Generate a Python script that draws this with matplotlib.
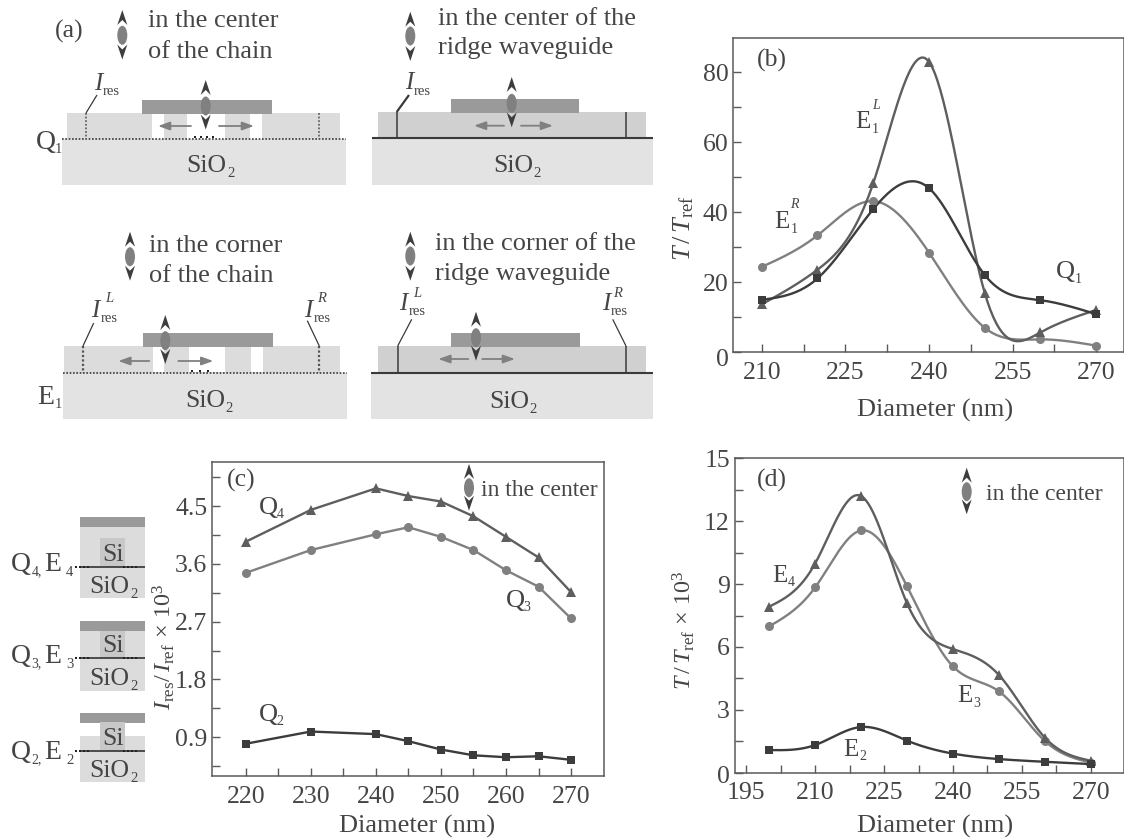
import numpy as np
import matplotlib
matplotlib.use("Agg")
import matplotlib.pyplot as plt
from matplotlib.patches import Rectangle, Ellipse, Polygon
from matplotlib.ticker import FixedLocator
from matplotlib.transforms import ScaledTranslation

plt.rcParams['font.family'] = ['Liberation Serif', 'DejaVu Serif']
plt.rcParams['mathtext.fontset'] = 'custom'
plt.rcParams['mathtext.rm'] = 'Liberation Serif'
plt.rcParams['mathtext.it'] = 'Liberation Serif:italic'
plt.rcParams['mathtext.default'] = 'rm'

# ---------- data ----------
b_x = [210, 220, 230, 240, 250, 260, 270]
b_E1L = [13.7, 23.6, 48.3, 83.0, 17.0, 5.7, 12.1]
b_Q1 = [15.0, 21.1, 40.9, 46.9, 22.1, 14.9, 10.9]
b_E1R = [24.4, 33.4, 43.2, 28.5, 7.0, 3.7, 1.9]

c_x = [220, 230, 240, 245, 250, 255, 260, 265, 270]
c_Q4 = [3.945, 4.44, 4.775, 4.655, 4.57, 4.34, 4.02, 3.70, 3.16]
c_Q3 = [3.46, 3.815, 4.06, 4.17, 4.02, 3.815, 3.50, 3.245, 2.75]
c_Q2 = [0.80, 0.99, 0.95, 0.84, 0.71, 0.62, 0.59, 0.605, 0.55]

d_x = [200, 210, 220, 230, 240, 250, 260, 270]
d_E4 = [7.92, 9.98, 13.2, 8.08, 5.9, 4.66, 1.67, 0.57]
d_E3 = [6.98, 8.84, 11.56, 8.89, 5.07, 3.88, 1.51, 0.48]
d_E2 = [1.08, 1.32, 2.18, 1.53, 0.91, 0.65, 0.52, 0.41]

# ---------- style ----------
W, H = 1124, 838
TXT = '#454545'
C_TRI, C_CIR, C_SQ = '#5e5e5e', '#808080', '#3c3c3c'
SPINE = '#5a5a5a'


def spline(x, y, n=40):
    """Natural cubic spline drawn through the read points (smooth connected line)."""
    x, y = np.asarray(x, float), np.asarray(y, float)
    h = np.diff(x)
    m = len(x)
    A = np.zeros((m, m))
    r = np.zeros(m)
    A[0, 0] = A[-1, -1] = 1
    for i in range(1, m - 1):
        A[i, i - 1:i + 2] = h[i - 1], 2 * (h[i - 1] + h[i]), h[i]
        r[i] = 6 * ((y[i + 1] - y[i]) / h[i] - (y[i] - y[i - 1]) / h[i - 1])
    s = np.linalg.solve(A, r)
    xs, ys = [], []
    for i in range(m - 1):
        t = np.linspace(x[i], x[i + 1], n)
        a, b = x[i + 1] - t, t - x[i]
        ys.append(s[i] * a**3 / (6 * h[i]) + s[i + 1] * b**3 / (6 * h[i])
                  + (y[i] / h[i] - s[i] * h[i] / 6) * a
                  + (y[i + 1] / h[i] - s[i + 1] * h[i] / 6) * b)
        xs.append(t)
    return np.concatenate(xs), np.concatenate(ys)


fig = plt.figure(figsize=(W / 100, H / 100), dpi=100)
fig.patch.set_facecolor('white')


def make_axes(l, t, r, b, xlim, ylim, xmaj, xmin, ymaj, ymin, xpad=7):
    ax = fig.add_axes([l / W, 1 - b / H, (r - l) / W, (b - t) / H])
    ax.set_xlim(*xlim)
    ax.set_ylim(*ylim)
    ax.xaxis.set_major_locator(FixedLocator(xmaj))
    ax.xaxis.set_minor_locator(FixedLocator(xmin))
    ax.yaxis.set_major_locator(FixedLocator(ymaj))
    ax.yaxis.set_minor_locator(FixedLocator(ymin))
    ax.tick_params(which='both', direction='in', length=6, width=1.0, color=SPINE,
                   labelcolor=TXT, labelsize=18.5)
    ax.tick_params(axis='x', which='major', pad=xpad)
    ax.tick_params(axis='y', which='major', pad=3.5)
    ax.set_xticklabels([str(v) for v in xmaj])
    for s in ax.spines.values():
        s.set_color(SPINE)
        s.set_linewidth(1.1)
    ax.patch.set_alpha(0)
    return ax


def series(ax, x, y, color, marker, ms, smooth=True):
    lx, ly = spline(x, y) if smooth else (x, y)
    ax.plot(lx, ly, color=color, lw=1.7, zorder=3)
    ax.plot(x, y, ls='none', marker=marker, color=color, ms=ms, mew=0, zorder=4, clip_on=False)


def drop_zero_label(ax, px):
    lab = ax.get_yticklabels()[0]
    lab.set_transform(lab.get_transform() + ScaledTranslation(0, -px / 100, fig.dpi_scale_trans))


TRI, CIR, SQ = ('^', 7.5), ('o', 6.5), ('s', 6)

# panel b
axb = make_axes(733.3, 38, 1123.5, 352.3, (204.9, 274.9), (0, 89.8),
                [210, 225, 240, 255, 270], [217.5, 232.5, 247.5, 262.5],
                [0, 20, 40, 60, 80], [10, 30, 50, 70])
series(axb, b_x, b_E1R, C_CIR, *CIR)
series(axb, b_x, b_E1L, C_TRI, *TRI)
series(axb, b_x, b_Q1, C_SQ, *SQ)
axb.set_xlabel('Diameter (nm)', fontsize=19, color=TXT)
axb.xaxis.set_label_coords((935 - 733.3) / 390.2, -(416.5 - 352.3) / 314.3)
axb.xaxis.label.set_va('baseline')
axb.set_ylabel(r'$\mathit{T}\,/\,\mathit{T}_{\mathrm{ref}}$', fontsize=19, color=TXT)
axb.yaxis.set_label_coords((690 - 733.3) / 390.2, (352.3 - 228.5) / 314.3)
axb.yaxis.label.set_va('baseline')
drop_zero_label(axb, 5)

# panel c
axc = make_axes(212, 461.7, 604, 776, (214.8, 275.07), (0.298, 5.19),
                [220, 230, 240, 250, 260, 270], [225, 235, 245, 255, 265],
                [0.9, 1.8, 2.7, 3.6, 4.5], [0.45, 1.35, 2.25, 3.15, 4.05, 4.95])
axc.set_yticklabels(['0.9', '1.8', '2.7', '3.6', '4.5'])
series(axc, c_x, c_Q3, C_CIR, *CIR, smooth=False)
series(axc, c_x, c_Q4, C_TRI, *TRI, smooth=False)
series(axc, c_x, c_Q2, C_SQ, *SQ, smooth=False)
axc.set_xlabel('Diameter (nm)', fontsize=19, color=TXT)
axc.xaxis.set_label_coords((417 - 212) / 392, -(832.5 - 776) / 314.3)
axc.xaxis.label.set_va('baseline')
axc.set_ylabel(r'$\mathit{I}_{\mathrm{res}}/\,\mathit{I}_{\mathrm{ref}}\,\times\,10^{3}$', fontsize=17.5, color=TXT)
axc.yaxis.set_label_coords((171 - 212) / 392, (776 - 647) / 314.3)
axc.yaxis.label.set_va('baseline')

# panel d
axd = make_axes(734.7, 458.3, 1123.5, 772.7, (192.5, 277.1), (0, 15),
                [195, 210, 225, 240, 255, 270], [202.5, 217.5, 232.5, 247.5, 262.5],
                [0, 3, 6, 9, 12, 15], [1.5, 4.5, 7.5, 10.5, 13.5])
series(axd, d_x, d_E3, C_CIR, *CIR)
series(axd, d_x, d_E4, C_TRI, *TRI)
series(axd, d_x, d_E2, C_SQ, *SQ)
axd.set_xlabel('Diameter (nm)', fontsize=19, color=TXT)
axd.xaxis.set_label_coords((935 - 734.7) / 388.8, -(832.5 - 772.7) / 314.4)
axd.xaxis.label.set_va('baseline')
axd.set_ylabel(r'$\mathit{T}\,/\,\mathit{T}_{\mathrm{ref}}\,\times\,10^{3}$', fontsize=17.5, color=TXT)
axd.yaxis.set_label_coords((691 - 734.7) / 388.8, (772.7 - 630) / 314.4)
axd.yaxis.label.set_va('baseline')
drop_zero_label(axd, 2)

# overlay in reference pixel coordinates for the schematics and annotations
ov = fig.add_axes([0, 0, 1, 1], zorder=10)
ov.set_xlim(0, W)
ov.set_ylim(H, 0)
ov.axis('off')
ov.patch.set_alpha(0)


def T(x, y, s, size=18.5, **kw):
    kw.setdefault('color', TXT)
    ov.text(x, y, s, fontsize=size, ha='left', va='baseline', **kw)


def rect(x0, y0, x1, y1, c, z=1):
    ov.add_patch(Rectangle((x0, y0), x1 - x0, y1 - y0, fc=c, ec='none', zorder=z))


def dipole(x, y, up, dn, w=10, h=19, halo=True):
    c = '#3d3d3d'
    hw = 5.0
    hl = 15
    ov.add_patch(Polygon([(x, up), (x + hw, up + hl), (x, up + hl - 5), (x - hw, up + hl)],
                         fc=c, ec='none', zorder=5))
    ov.add_patch(Polygon([(x, dn), (x + hw, dn - hl), (x, dn - hl + 5), (x - hw, dn - hl)],
                         fc=c, ec='none', zorder=5))
    if halo:
        ov.add_patch(Ellipse((x, y), w + 2.5, h + 2.5, fc='white', ec='none', zorder=6))
    ov.add_patch(Ellipse((x, y), w, h, fc='#808080', ec='none', zorder=7))


def harrow(x0, x1, y):
    ov.annotate('', xy=(x1, y), xytext=(x0, y),
                arrowprops=dict(arrowstyle='-|>,head_length=0.7,head_width=0.25',
                                color='#808080', lw=1.3, shrinkA=0, shrinkB=0), zorder=5)


def sio2(x, y, sub_x):
    T(x, y, 'SiO', zorder=8)
    T(sub_x, y + 5, '2', size=10.5, zorder=8)


def ires(x, y, rx, ry, sup=None, sx=None, sy=None):
    T(x, y, 'I', size=18, style='italic')
    T(rx, ry, 'res', size=10.5)
    if sup:
        T(sx, sy, sup, size=10.5, style='italic')


def line(xs, ys, c='#3a3a3a', lw=1.0, ls='-', z=4):
    ov.plot(xs, ys, color=c, lw=lw, ls=ls, zorder=z, solid_capstyle='butt')


def qdots(xs, y):
    ov.plot(xs, [y] * len(xs), ls='none', marker='s', ms=1.7, mew=0, color='#222222', zorder=6)


LAYER_A = '#dcdcdc'
SUB = '#e3e3e3'
LAYER_B = '#d0d0d0'
BAR = '#9a9a9a'

# a1: center of chain
rect(62, 139.3, 346, 185, SUB)
rect(67, 113, 340, 139.3, LAYER_A)
for g in [(152, 164), (187, 225), (250, 262)]:
    rect(g[0], 113.5, g[1], 139, 'white', 2)
rect(142, 100, 272, 113.7, BAR, 3)
line([62, 346], [139.3, 139.3], lw=1.2, ls=(0, (1, 1)))
for xx in (86, 319.3):
    line([xx, xx], [113, 139], lw=1.3, ls=(0, (1, 1)), c='#666666')
line([86, 97], [113, 95], lw=0.9)
ires(94, 90, 103, 95)
qdots([195, 201, 207, 213], 137.5)
dipole(205.7, 106, 80, 129.5, halo=False)
harrow(191, 158, 126)
harrow(219, 254, 126)
sio2(186.7, 171.7, 227)
dipole(122.3, 35.3, 10, 59.5)
T(147.7, 27, 'in the center', size=19)
T(147.7, 58, 'of the chain', size=19)
T(55, 38, '(a)', size=18.5)
T(36, 149, 'Q', size=20)
T(55, 152.7, '1', size=10.5)

# a2: corner of chain
rect(62.7, 372.7, 346.7, 419, SUB)
rect(64, 346, 340, 372.7, LAYER_A)
for g in [(153, 164), (189, 225), (251, 263)]:
    rect(g[0], 346.5, g[1], 372, 'white', 2)
rect(143, 333, 273, 346.7, BAR, 3)
line([62.7, 346.7], [372.7, 372.7], lw=1.2, ls=(0, (1, 1)))
for xx in (83, 319.3):
    line([xx, xx], [346, 372.7], lw=1.6, ls=(0, (1, 1)), c='#555555')
line([83, 93.7], [346, 323], lw=0.9)
line([319.3, 307.3], [346, 320.7], lw=0.9)
ires(90.7, 316.7, 101, 321.7, 'L', 105, 301.7)
ires(304, 316.7, 314, 321.7, 'R', 317, 301.7)
qdots([192, 200, 208], 371.5)
dipole(165.3, 340.7, 315, 364, halo=False)
harrow(149.3, 118.3, 361)
harrow(178.3, 213.3, 361)
sio2(185, 407, 225)
dipole(130, 256.7, 231.7, 280.7)
T(149.3, 252.3, 'in the corner', size=19)
T(149.3, 282.3, 'of the chain', size=19)
T(37, 404, 'E', size=20)
T(54.3, 408, '1', size=10.5)

# a3: center of ridge
rect(372, 138.3, 653.3, 185, SUB)
rect(378, 112, 646, 138.3, LAYER_B)
rect(451, 99, 579, 113, BAR, 3)
line([372, 653.3], [138.5, 138.5], lw=1.5)
for xx in (396.7, 626):
    line([xx, xx], [112, 138], lw=1.1)
line([396.7, 409], [112, 95], lw=1.6)
ires(405, 89, 414, 94.7)
dipole(511.7, 103.3, 77, 127.3, halo=False)
harrow(504, 474, 125.7)
harrow(521, 553, 125.7)
sio2(493, 171.7, 533)
dipole(410.3, 36, 11.7, 61)
T(437.7, 25, 'in the center of the', size=19)
T(437.7, 54.3, 'ridge waveguide', size=19)

# a4: corner of ridge
rect(371, 373.3, 653, 419, SUB)
rect(378, 346, 646, 373, LAYER_B)
rect(451, 333, 580, 346.7, BAR, 3)
line([371, 653], [373.3, 373.3], lw=1.5)
for xx in (397.7, 626):
    line([xx, xx], [346, 373], lw=1.1)
line([397.7, 411.7], [346, 319.3], lw=0.9)
line([626, 612.7], [346, 319.3], lw=0.9)
ires(399.3, 310, 408.7, 315, 'L', 413.3, 297)
ires(601.7, 310, 611, 315, 'R', 613.3, 297)
dipole(476, 337.7, 311.7, 360.7, halo=False)
harrow(468.3, 438.3, 359)
harrow(482.3, 515, 359)
sio2(489.3, 407.7, 529)
dipole(410.3, 256, 231.7, 280.7)
T(435, 250, 'in the corner of the', size=19)
T(435, 280, 'ridge waveguide', size=19)

# left of panel c: cross sections
for (bt, bb, lt, lb, st, sb, sy, oy, lab, ly) in [
        (517.3, 526.7, 526.7, 597.7, 538, 566.7, 560.7, 593.3, '4', 570.7),
        (621, 630.7, 630.7, 691, 630.7, 657.7, 652, 685.3, '3', 662.7),
        (713, 722.7, 736, 781.7, 722, 750.7, 745, 776.7, '2', 759.3)]:
    rect(80, lt, 145, lb, LAYER_A)
    rect(80, bt, 145, bb, BAR, 2)
    rect(100, st, 125, sb, '#c8c8c8', 3)
    line([80, 145], [sb, sb], lw=1.2, c='#333333')
    qdots([76, 80, 84, 88], sb)
    qdots([124, 128, 132, 136], sb)
    T(102.7, sy, 'Si', size=18.5, zorder=8)
    T(89, oy, 'SiO', size=18.5, zorder=8)
    T(130, oy + 5, '2', size=10.5, zorder=8)
    T(11, ly, 'Q', size=20)
    T(31.5, ly + 4, lab + ',', size=10)
    T(44, ly, 'E', size=20)
    T(66, ly + 5, lab, size=10.5)

# panel b annotations
T(756.7, 66.7, '(b)', size=18.5)
T(855, 128.3, 'E', size=18)
T(871.7, 132.7, '1', size=10)
T(872, 109.3, 'L', size=10, style='italic')
T(774, 228.3, 'E', size=18)
T(790.7, 233.3, '1', size=10)
T(790, 208.3, 'R', size=10, style='italic')
T(1055.7, 278.3, 'Q', size=19)
T(1075, 283.3, '1', size=10)

# panel c annotations
T(227.3, 486.7, '(c)', size=18.5)
T(259, 514, 'Q', size=19)
T(276.5, 518.3, '4', size=10)
T(505.7, 606.7, 'Q', size=19)
T(523, 611.3, '3', size=10)
T(259, 720.7, 'Q', size=19)
T(276.5, 725, '2', size=10)
dipole(469, 487.7, 464, 510.7)
T(481, 496, 'in the center', size=17)

# panel d annotations
T(756.7, 486.7, '(d)', size=18.5)
T(772.3, 581.7, 'E', size=18)
T(788, 586, '4', size=10)
T(957.3, 701.7, 'E', size=18)
T(973, 706.7, '3', size=10)
T(843.3, 755.7, 'E', size=18)
T(859, 760, '2', size=10)
dipole(966.7, 491.7, 467.7, 514.3)
T(985.7, 500, 'in the center', size=17)

fig.savefig('out.png', dpi=100)
